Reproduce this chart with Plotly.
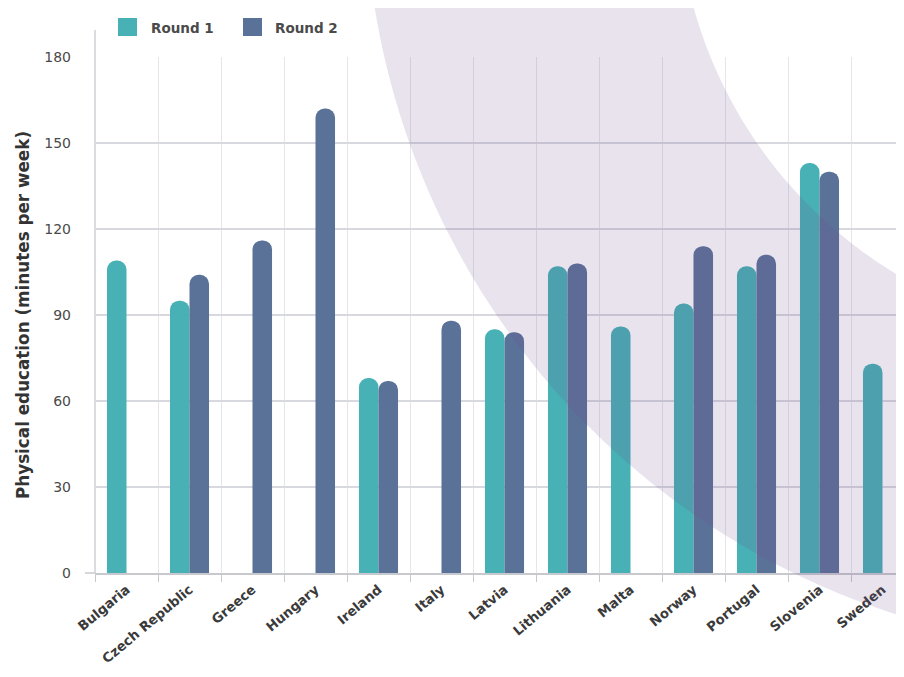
import numpy as np
import plotly.graph_objects as go

countries = ["Bulgaria", "Czech Republic", "Greece", "Hungary", "Ireland", "Italy",
             "Latvia", "Lithuania", "Malta", "Norway", "Portugal", "Slovenia", "Sweden"]
round1 = [109, 95, None, None, 68, None, 85, 107, 86, 94, 107, 143, 73]
round2 = [None, 104, 116, 162, 67, 88, 84, 108, None, 114, 111, 140, None]
y_ticks = [0, 30, 60, 90, 120, 150, 180]
series_names = ["Round 1", "Round 2"]
series_colors = ["#47b1b5", "#5a7198"]

# the page body has an 8px margin, so the figure is laid out in page coords minus 8
OFF = 8
W, H = 904 - 2 * OFF, 677 - 2 * OFF
ML, MT = 95 - OFF, 57 - OFF
MB = H - (573 - OFF)
MR = 0
PW, PH = W - ML - MR, H - MT - MB
CAT_PX = 63.0

def px2paper(px, py):
    """page-pixel -> paper coords"""
    return (px - OFF - ML) / PW, (H - MB - (py - OFF)) / PH

fig = go.Figure()
for name, vals, col in zip(series_names, [round1, round2], series_colors):
    fig.add_trace(go.Bar(name=name, x=countries, y=vals, marker_color=col,
                         marker_line_width=0, showlegend=False))

# decorative ring segment (background artwork), page pixel geometry
cx, cy, r_out, r_in = 1130.0, -114.0, 765.0, 453.0
ang = np.linspace(np.pi / 2, np.pi, 200)
ox, oy = cx + r_out * np.cos(ang), cy + r_out * np.sin(ang)
ix, iy = cx + r_in * np.cos(ang[::-1]), cy + r_in * np.sin(ang[::-1])
pts = list(zip(ox, oy)) + list(zip(ix, iy))
path = ""
for i, (x, y) in enumerate(pts):
    px_, py_ = px2paper(x, y)
    path += ("M" if i == 0 else "L") + f"{px_:.5f},{py_:.5f} "
path += "Z"
fig.add_shape(type="path", path=path, xref="paper", yref="paper",
              fillcolor="rgba(110,80,145,0.16)", line_width=0, layer="above")

# axis line extensions
_, ytop = px2paper(95, 30)
fig.add_shape(type="line", xref="paper", yref="paper", x0=0, x1=0, y0=0, y1=ytop,
              line=dict(color="#cfcfd6", width=1.5), layer="below")
xl, _ = px2paper(85, 0)
fig.add_shape(type="line", xref="paper", yref="paper", x0=xl, x1=0, y0=0, y1=0,
              line=dict(color="#c8c8cf", width=1.5), layer="below")

# legend (drawn manually: large square swatches)
legend_pos = [(118, 149), (243, 273)]
for (sx, tx), name, col in zip(legend_pos, series_names, series_colors):
    x0, y0 = px2paper(sx, 18)
    x1, y1 = px2paper(sx + 19, 36)
    fig.add_shape(type="rect", xref="paper", yref="paper", x0=x0, x1=x1, y0=y1, y1=y0,
                  fillcolor=col, line_width=0)
    ax_, ay_ = px2paper(tx, 28)
    fig.add_annotation(text=name, xref="paper", yref="paper", x=ax_, y=ay_,
                       xanchor="left", yanchor="middle", showarrow=False,
                       font=dict(family="DejaVu Sans", size=13.5, color="#4a4a4a",
                                 weight="bold"))

fig.update_layout(
    width=W, height=H,
    margin=dict(l=ML, r=MR, t=MT, b=MB, autoexpand=False),
    paper_bgcolor="white", plot_bgcolor="white",
    barmode="group", bargap=0.38, bargroupgap=0, barcornerradius="50%",
    font=dict(family="DejaVu Sans, Liberation Sans, sans-serif", size=14, color="#444"),
    showlegend=False,
    xaxis=dict(range=[-0.5, -0.5 + PW / CAT_PX], tickangle=-40, tickson="boundaries",
               ticks="outside", ticklen=7, tickcolor="#c8c8cf", showgrid=True,
               gridcolor="#e6e6ea", gridwidth=1, showline=True, linecolor="#c8c8cf",
               linewidth=1.5, ticklabelstandoff=2,
               tickfont=dict(family="DejaVu Sans", size=13.3, color="#3a3a3a",
                             weight="bold"),
               fixedrange=True),
    yaxis=dict(range=[0, 180], tickvals=y_ticks, showgrid=True, gridcolor="#d8d8df",
               gridwidth=2, zeroline=False, showline=False,
               ticklabelstandoff=23,
               tickfont=dict(family="DejaVu Sans", size=14, color="#4a4a4a"),
               title=dict(text="Physical education (minutes per week)",
                          font=dict(family="DejaVu Sans", size=16.8, color="#333",
                                    weight="bold"),
                          standoff=10)),
)

fig.write_html("out.html")
